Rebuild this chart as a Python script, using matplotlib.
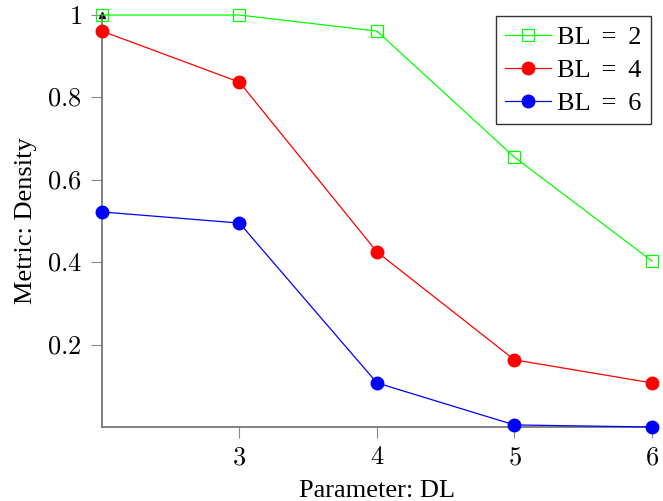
import matplotlib
matplotlib.use("Agg")
import matplotlib.pyplot as plt
from matplotlib.ticker import FuncFormatter

plt.rcParams['font.family'] = ['Liberation Serif', 'DejaVu Serif']
plt.rcParams['mathtext.fontset'] = 'cm'

# data
dl = [2, 3, 4, 5, 6]
bl2 = [1.0, 1.0, 0.961, 0.655, 0.403]
bl4 = [0.961, 0.837, 0.425, 0.163, 0.107]
bl6 = [0.522, 0.495, 0.107, 0.005, 0.0]
labels = ['BL \u2009= \u20092', 'BL \u2009= \u20094', 'BL \u2009= \u20096']

xticks = [3, 4, 5, 6]
yticks = [0.2, 0.4, 0.6, 0.8, 1.0]

FS = 19

fig = plt.figure(figsize=(6.63, 5.01), dpi=100)
ax = fig.add_axes([0.1538, 0.1477, 0.8296, 0.8223])

ax.plot(dl, bl2, color='#00ff00', lw=0.9, marker='s', markersize=8,
        markerfacecolor='none', markeredgecolor='#00ff00', markeredgewidth=0.9,
        label=labels[0], clip_on=False, zorder=3)
ax.plot(dl, bl4, color='#ff0000', lw=0.9, marker='o', markersize=9,
        label=labels[1], clip_on=False, zorder=3)
ax.plot(dl, bl6, color='#0000ff', lw=0.9, marker='o', markersize=9,
        label=labels[2], clip_on=False, zorder=3)

ax.set_xlim(2, 6)
ax.set_ylim(0, 1)
ax.set_xticks(xticks)
ax.set_yticks(yticks)
# tex style numbers
ax.xaxis.set_major_formatter(FuncFormatter(lambda v, p: '$%g$' % v))
ax.yaxis.set_major_formatter(FuncFormatter(lambda v, p: '$%g$' % v))

for s in ['top', 'right']:
    ax.spines[s].set_visible(False)
for s in ['left', 'bottom']:
    ax.spines[s].set_color('#606060')
    ax.spines[s].set_linewidth(1.1)

# arrow heads at the axis ends
ax.plot(1, 0, marker='>', color='black', markersize=4, transform=ax.transAxes, clip_on=False, zorder=2)
ax.plot(0, 1, marker='^', color='black', markersize=4, transform=ax.transAxes, clip_on=False, zorder=2)

ax.tick_params(direction='out', length=8, width=0.8, color='#888888',
               labelsize=FS, pad=6.5)

ax.set_xlabel('Parameter: DL', fontsize=FS, labelpad=8)
ax.set_ylabel('Metric: Density', fontsize=FS, labelpad=7)

leg = ax.legend(loc='upper right', fontsize=FS, fancybox=False, framealpha=1,
                edgecolor='#333333', handlelength=1.74, handletextpad=0.23,
                labelspacing=0.36, borderpad=0.35, borderaxespad=0.05)
leg.get_frame().set_linewidth(1.0)

fig.savefig('out.png', dpi=100)
